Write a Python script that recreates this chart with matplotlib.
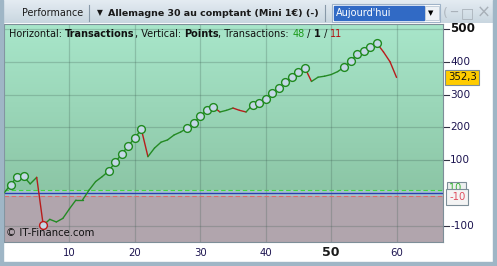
import matplotlib
matplotlib.use("Agg")
import matplotlib.pyplot as plt
import matplotlib.patches as mpatches
import numpy as np

plt.rcParams["font.family"] = "DejaVu Sans"

# Data: equity curve (points) per transaction
trades = list(range(0, 61))
points = [0, 25, 50, 51, 28, 48, -98, -80, -88, -77,
          -48, -21, -21, 9, 35, 50, 67, 94, 119, 144,
          168, 194, 111, 137, 155, 162, 177, 186, 198, 213,
          234, 253, 263, 247, 252, 259, 252, 247, 269, 274,
          286, 305, 320, 337, 354, 369, 381, 340, 353, 356,
          361, 370, 384, 401, 424, 432, 445, 456, 430, 400,
          352.3]
red_segments = [6, 22, 33, 36, 37, 47, 58, 59, 60]   # segment ending at these trades
new_highs = [1, 2, 3, 16, 17, 18, 19, 20, 21, 28, 29, 30, 31, 32,
             38, 39, 40, 41, 42, 43, 44, 45, 46, 52, 53, 54, 55, 56, 57]
new_low = [6]
x_ticks = [10, 20, 30, 40, 50, 60]
y_ticks = [-100, 100, 200, 300, 400, 500]
wins, even, losses = 48, 1, 11
last_value = "352,3"

W, H = 497, 266
fig = plt.figure(figsize=(W / 100, H / 100), dpi=100)
fig.patch.set_facecolor("white")


def fx(x):
    return x / W


def fy(y):
    return 1 - y / H


def rect(x0, y0, x1, y1, **kw):
    fig.patches.append(mpatches.Rectangle((fx(x0), fy(y1)), fx(x1 - x0), y1 / H - y0 / H,
                                          transform=fig.transFigure, **kw))


# Window frame and toolbar
bar = np.linspace(0, 1, 50)[:, None]
bg = fig.add_axes([0, fy(23), 1, 23 / H])
bg.imshow(bar, cmap=matplotlib.colors.LinearSegmentedColormap.from_list("t", ["#e4ecf2", "#c9d6e0"]),
          aspect="auto", extent=[0, 1, 0, 1])
bg.set_axis_off()
rect(0, 0, 3, 266, color="#9fb6c6", zorder=5)
rect(493, 0, 497, 266, color="#9fb6c6", zorder=5)
rect(0, 262, 497, 266, color="#9fb6c6", zorder=5)

fig.text(fx(22), fy(13), "Performance", fontsize=6.9, va="center", color="#1a1a1a")
fig.add_artist(plt.Line2D([fx(89), fx(89)], [fy(5), fy(21)], color="#8899a8", lw=0.8))
fig.text(fx(97), fy(13), "\u25bc", fontsize=5.5, va="center", color="#1a1a1a")
fig.text(fx(108), fy(13), "Allemagne 30 au comptant (Mini 1\u20ac) (-)", fontsize=6.8,
         fontweight="bold", va="center", color="#1a1a1a")
fig.add_artist(plt.Line2D([fx(325), fx(325)], [fy(5), fy(21)], color="#8899a8", lw=0.8))
rect(332, 4, 440, 22, facecolor="white", edgecolor="#9fb3c8", lw=0.8, zorder=3)
rect(334, 6, 424, 20, color="#316ac5", zorder=4)
rect(425, 6, 439, 20, facecolor="#eef2f6", edgecolor="#b8c6d4", lw=0.6, zorder=4)
fig.text(fx(336), fy(13), "Aujourd'hui", fontsize=7.0, va="center", color="white", zorder=6)
fig.text(fx(428), fy(13), "\u25bc", fontsize=5, va="center", color="black", zorder=6)
fig.text(fx(443), fy(13), "(", fontsize=9, va="center", color="#b0b8c0")
fig.text(fx(450), fy(13), "_", fontsize=10, va="bottom", color="#a8b0b8")
fig.text(fx(461), fy(13), "\u25a1", fontsize=10, va="center", color="#a8b0b8")
fig.text(fx(477), fy(13), "\u00d7", fontsize=12, va="center", color="#a8b0b8")

# Main plot area
ax = fig.add_axes([fx(4), fy(242), fx(443 - 4), (242 - 24) / H])
xmin, xmax = 0, 67.1
ymin, ymax = -149, 515
ax.set_xlim(xmin, xmax)
ax.set_ylim(ymin, ymax)

green_cmap = matplotlib.colors.LinearSegmentedColormap.from_list("g", ["#8cc6a6", "#a8e6ca"])
ax.imshow(np.linspace(0, 1, 100)[:, None][::-1], cmap=green_cmap, aspect="auto",
          extent=[xmin, xmax, 10, ymax], zorder=0)
ax.axhspan(-10, 10, color="#a6c4cd", zorder=0, lw=0)
ax.axhspan(ymin, -10, color="#b1a5ad", zorder=0, lw=0)

for v in x_ticks:
    ax.axvline(v, color="#3c5a50", alpha=0.25, lw=0.9, zorder=1)
for v in y_ticks:
    ax.axhline(v, color="#3c5a50", alpha=0.25, lw=0.9, zorder=1)

ax.axhline(0, color="#2a3fb0", lw=1.0, zorder=2)
ax.axhline(10, color="#3ed83e", lw=0.8, ls=(0, (4, 2.5)), zorder=2)
ax.axhline(-10, color="#e06a6a", lw=0.8, ls=(0, (4, 2.5)), zorder=2)

for i in range(1, len(trades)):
    c = "#b81c1c" if trades[i] in red_segments else "#248a24"
    ax.plot(trades[i - 1:i + 1], points[i - 1:i + 1], color=c, lw=1.0, zorder=3,
            solid_capstyle="round")

ax.plot([trades[i] for i in new_highs], [points[i] for i in new_highs], "o", ms=5.6,
        mfc="#c4d8e6", mec="#1f8a1f", mew=1.0, zorder=4)
ax.plot([trades[i] for i in new_low], [points[i] for i in new_low], "o", ms=5.6,
        mfc="#c4d8e6", mec="#c01818", mew=1.0, zorder=4)

ax.set_xticks([])
ax.set_yticks([])
for s in ax.spines.values():
    s.set_color("#7d8e98")
    s.set_linewidth(0.8)

ax.text(0.004, 0.02, "\u00a9 IT-Finance.com", transform=ax.transAxes, fontsize=7.3,
        color="#111111", va="bottom", ha="left", zorder=6)

# Header line with mixed styles
pieces = [("Horizontal: ", "normal", "#111111"), ("Transactions", "bold", "#111111"),
          (", Vertical: ", "normal", "#111111"), ("Points", "bold", "#111111"),
          (", Transactions: ", "normal", "#111111"), (str(wins), "normal", "#1a9a1a"),
          (" / ", "normal", "#111111"), (str(even), "bold", "#111111"),
          (" / ", "normal", "#111111"), (str(losses), "normal", "#b01010")]
fig.canvas.draw()
renderer = fig.canvas.get_renderer()
xpos = 9
for txt, weight, col in pieces:
    t = fig.text(fx(xpos), fy(34), txt, fontsize=7.0, fontweight=weight, color=col,
                 va="center", ha="left", zorder=10)
    bb = t.get_window_extent(renderer)
    xpos += bb.width

# Axis labels (drawn by value through the axes transform)
xtrans = matplotlib.transforms.blended_transform_factory(ax.transData, fig.transFigure)
for v in x_ticks:
    fig.text(v, fy(253), str(v), transform=xtrans,
             fontsize=9 if v == 50 else 7.3, fontweight="bold" if v == 50 else "normal",
             color="#1a1a1a" if v == 50 else "#1c1450", ha="center", va="center")

ytrans = matplotlib.transforms.blended_transform_factory(fig.transFigure, ax.transData)
for v in y_ticks:
    fig.add_artist(plt.Line2D([fx(444), fx(449)], [v, v], transform=ytrans, color="#333344", lw=0.8))
    fig.text(fx(450), v, str(v), transform=ytrans, fontsize=8.6 if v == 500 else 7.6,
             fontweight="bold" if v == 500 else "normal",
             color="#111111" if v == 500 else "#1c1450", va="center", ha="left")

# Value boxes on the right axis
fig.text(fx(449), 14, "10 ", transform=ytrans, fontsize=7, color="#30b030", va="center", ha="left",
         bbox=dict(boxstyle="square,pad=0.2", fc="#eef0f0", ec="#7d8e98", lw=0.8), zorder=3)
fig.text(fx(449), -12, "-10", transform=ytrans, fontsize=7.3, color="#e05060", va="center", ha="left",
         bbox=dict(boxstyle="square,pad=0.3", fc="#f4f4f4", ec="#7d8e98", lw=0.8), zorder=4)
fig.text(fx(448), points[-1], last_value, transform=ytrans, fontsize=7.3, color="#111111",
         va="center", ha="left", bbox=dict(boxstyle="square,pad=0.25", fc="#ffcc00", ec="#7d8e98", lw=0.8))

fig.savefig("out.png", dpi=100)
